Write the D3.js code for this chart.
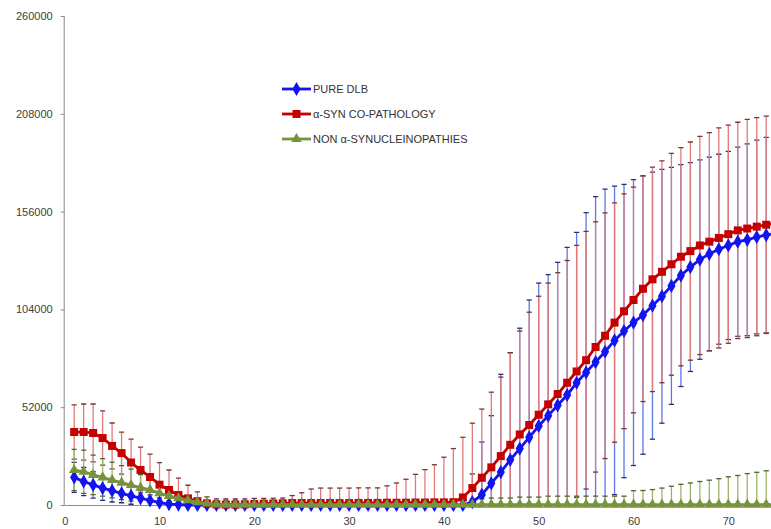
<!DOCTYPE html>
<html>
<head>
<meta charset="utf-8">
<script src="https://cdn.jsdelivr.net/npm/d3@7"></script>
<style>
  body { margin: 0; background: #fff; }
  svg { display: block; font-family: "Liberation Sans", Arial, sans-serif; }
  .axis text { fill: #404040; font-size: 11px; }
  .axis path, .axis line { stroke: #8c8c8c; }
  .legend text { fill: #333; font-size: 11px; }
</style>
</head>
<body>
<svg id="chart"></svg>
<script>
// x positions (cycle number)
var cycles = [1,2,3,4,5,6,7,8,9,10,11,12,13,14,15,16,17,18,19,20,21,22,23,24,25,26,27,28,29,30,
  31,32,33,34,35,36,37,38,39,40,41,42,43,44,45,46,47,48,49,50,51,52,53,54,55,56,57,58,59,60,
  61,62,63,64,65,66,67,68,69,70,71,72,73,74,75,76];

var seriesNames = ['PURE DLB', 'α-SYN CO-PATHOLOGY', 'NON α-SYNUCLEINOPATHIES'];

var dlbMean = [14700,12500,10700,9000,7600,6200,4900,3700,2400,1300,500,200,0,0,0,0,0,0,0,0,
  0,0,0,0,0,0,0,0,0,0,0,0,0,0,0,0,0,0,0,0,0,0,1500,5500,11500,17500,24000,30000,36000,42000,
  47500,53000,58500,65000,70500,76000,81500,87500,92500,97000,101000,106000,111000,116500,122000,126500,130500,133500,136000,138000,
  140000,141000,142500,143500,144500,145500];
var dlbErr = [8000,7500,7000,6500,6000,5000,4500,4000,3000,2500,1500,1000,500,300,300,300,300,300,300,300,
  300,300,300,300,300,300,300,300,300,300,300,300,300,300,300,300,300,300,300,300,300,500,15000,28000,36000,52000,57000,64000,73000,76000,
  75000,76000,78500,80000,85000,88000,86500,82000,78000,76000,74000,71000,67500,63000,59000,55500,53000,51500,50500,50000,
  50300,51000,51500,52000,51500,51000];

var synMean = [38800,38800,38300,35600,31400,27600,22600,18600,14900,10800,8000,5300,3500,2000,800,300,200,200,300,500,
  700,800,900,1000,1000,1000,1000,1000,1000,1000,1100,1100,1100,1200,1200,1200,1300,1300,1400,1400,1500,4000,9000,14500,20000,26000,32000,37500,42500,48000,
  53500,59000,65000,71000,77000,84000,90000,97000,103000,109000,115000,120000,124000,128000,132000,135000,138000,140000,142000,144000,
  146000,147000,148000,149000,150000,150500];
var synErr = [14400,14900,15400,14400,12200,11200,12400,12200,12100,11700,10600,9000,7000,5000,3500,3000,3000,3000,3000,3000,
  2800,2800,2800,4000,5500,7500,8000,8000,8000,8000,8000,8000,8000,9000,10500,12500,15000,17500,20000,24000,28500,32000,34500,36500,40000,42000,49000,55000,60000,63000,
  64500,64500,65000,67000,68500,66500,65300,63600,62400,60000,60000,59700,59000,59000,58000,58000,58000,58000,58500,58000,
  57500,58000,58000,57800,57500,57500];

var nonMean = [18600,17700,16000,14700,13300,11900,10600,9200,8000,6300,4800,3600,2500,1500,800,300,200,200,200,200,
  200,200,200,200,200,200,200,200,200,200,200,200,200,200,200,200,200,200,200,200,200,200,200,200,200,200,200,200,200,200,
  200,200,200,200,200,200,200,200,200,200,200,200,200,200,200,200,200,200,200,200,
  200,200,200,200,200,200];
var nonErr = [11000,11500,10500,10000,9500,9000,8500,7000,6000,5000,4000,3000,2500,2000,1800,2000,2000,2000,2000,2000,
  2000,2000,2000,2500,2500,2500,2500,2500,2500,2500,2500,2500,2500,2500,2500,2500,2500,2500,2500,2500,2500,2500,3000,3000,3500,3500,3500,4000,4000,4000,
  4500,4500,4500,4500,4500,4500,4500,4500,4500,7400,7500,8000,8800,9800,10800,11500,12300,13000,13800,14800,
  15500,16500,17200,18000,18800,19500];

var yTicks = [0, 52000, 104000, 156000, 208000, 260000];
var xTicks = [0, 10, 20, 30, 40, 50, 60, 70];

var width = 771, height = 529;
var svg = d3.select('#chart').attr('width', width).attr('height', height);

var x = d3.scaleLinear().domain([0, 80]).range([64.7, 823.1]);
var y = d3.scaleLinear().domain([0, 260000]).range([505, 16]);

var styles = [
  {line: '#1414f0', bar: '#5a78e6', cap: '#2c2c70', shape: d3.symbolDiamond, size: 58},
  {line: '#c40000', bar: '#e07a7a', cap: '#7a3434', shape: d3.symbolSquare, size: 64},
  {line: '#77933c', bar: '#9cb46a', cap: '#4e6230', shape: d3.symbolTriangle, size: 48}
];

var series = [
  {name: seriesNames[0], mean: dlbMean, err: dlbErr},
  {name: seriesNames[1], mean: synMean, err: synErr},
  {name: seriesNames[2], mean: nonMean, err: nonErr}
].map(function(s, k) {
  s.style = styles[k];
  s.points = cycles.map(function(c, i) { return {x: c, v: s.mean[i], e: s.err[i]}; });
  return s;
});

svg.append('clipPath').attr('id', 'plot')
  .append('rect').attr('x', 64.7).attr('y', 8).attr('width', 720).attr('height', 497);

// axes
var yAxis = svg.append('g').attr('class', 'axis')
  .attr('transform', 'translate(64.7,0)')
  .call(d3.axisLeft(y).tickValues(yTicks).tickSize(4).tickPadding(8).tickFormat(function(d) { return d; }));
yAxis.select('.domain').attr('d', 'M-0.5,' + y(260000) + 'V' + y(0));

var xAxis = svg.append('g').attr('class', 'axis')
  .attr('transform', 'translate(0,505)')
  .call(d3.axisBottom(x).tickValues(xTicks).tickSize(0).tickPadding(12));
xAxis.select('.domain').attr('d', 'M64.7,0.5H771');

var plot = svg.append('g').attr('clip-path', 'url(#plot)');
var marks = svg.append('g');

// error bars first (clipped to the plot area)
series.forEach(function(s) {
  var g = plot.append('g');
  g.selectAll('.bar').data(s.points).enter().append('line')
    .attr('x1', function(d) { return x(d.x); })
    .attr('x2', function(d) { return x(d.x); })
    .attr('y1', function(d) { return y(d.v - d.e); })
    .attr('y2', function(d) { return y(d.v + d.e); })
    .attr('stroke', s.style.bar).attr('stroke-width', 1.3);
  [1, -1].forEach(function(sign) {
    g.selectAll('.cap' + sign).data(s.points).enter().append('line')
      .attr('x1', function(d) { return x(d.x) - 2.6; })
      .attr('x2', function(d) { return x(d.x) + 2.6; })
      .attr('y1', function(d) { return y(d.v + sign * d.e); })
      .attr('y2', function(d) { return y(d.v + sign * d.e); })
      .attr('stroke', s.style.cap).attr('stroke-width', 1.3);
  });
});

// lines + markers
var line = d3.line().x(function(d) { return x(d.x); }).y(function(d) { return y(d.v); });
series.forEach(function(s) {
  marks.append('path').datum(s.points)
    .attr('d', line).attr('fill', 'none')
    .attr('stroke', s.style.line).attr('stroke-width', 2.8);
  marks.selectAll(null).data(s.points).enter().append('path')
    .attr('d', d3.symbol().type(s.style.shape).size(s.style.size))
    .attr('transform', function(d) { return 'translate(' + x(d.x) + ',' + y(d.v) + ')'; })
    .attr('fill', s.style.line);
});

// legend
var legend = svg.append('g').attr('class', 'legend');
series.forEach(function(s, k) {
  var ly = 89 + k * 25;
  var row = legend.append('g').attr('transform', 'translate(282,' + ly + ')');
  row.append('line').attr('x1', 0).attr('x2', 29).attr('y1', 0).attr('y2', 0)
    .attr('stroke', s.style.line).attr('stroke-width', 2.8);
  row.append('path').attr('d', d3.symbol().type(s.style.shape).size(s.style.size))
    .attr('transform', 'translate(14.5,0)').attr('fill', s.style.line);
  row.append('text').attr('x', 31).attr('y', 4).text(s.name);
});
</script>
</body>
</html>
